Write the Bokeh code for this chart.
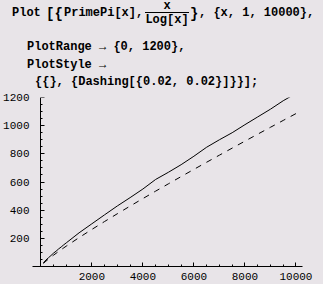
from bokeh.plotting import figure
from bokeh.models import Range1d, FixedTicker, LinearAxis, Div
from bokeh.layouts import column
from bokeh.embed import file_html
from bokeh.resources import INLINE
import html

# ---- data ----
x_vals = [100, 200, 300, 400, 500, 600, 700, 800, 900, 1000, 1500, 2000, 2500,
          3000, 3500, 4000, 4500, 5000, 5500, 6000, 6500, 7000, 7500, 8000,
          8500, 9000, 9500, 10000]
prime_pi = [25, 46, 62, 78, 95, 109, 125, 139, 154, 168, 239, 303, 367, 430,
            489, 550, 618, 669, 723, 783, 847, 900, 950, 1007, 1062, 1117,
            1177, 1229]
x_over_log = [21.7, 37.7, 52.6, 66.8, 80.5, 93.8, 106.8, 119.7, 132.3, 144.8,
              205.1, 263.1, 319.5, 374.7, 428.9, 482.3, 535.0, 587.0, 638.6,
              689.7, 740.4, 790.6, 840.6, 890.2, 939.5, 988.5, 1037.2, 1085.7]
x_major = [2000, 4000, 6000, 8000, 10000]
x_minor = [500, 1000, 1500, 2500, 3000, 3500, 4500, 5000, 5500, 6500, 7000,
           7500, 8500, 9000, 9500]
y_major = [200, 400, 600, 800, 1000, 1200]
y_minor = [50, 100, 150, 250, 300, 350, 450, 500, 550, 650, 700, 750, 850,
           900, 950, 1050, 1100, 1150]

code_plot = "Plot"
code_open = "[{"
code_primepi = "PrimePi[x],"
code_num = "x"
code_den = "Log[x]"
code_brace_close = "}"
code_range = ", {x, 1, 10000},"
code_line2 = "PlotRange \u2192 {0, 1200},"
code_line3 = "PlotStyle \u2192"
code_line4 = "{{}, {Dashing[{0.02, 0.02}]}}];"

BG = "#e8e4e8"

# ---- code (input cell) as positioned HTML text ----
def span(x, yc, s, size=12, center=False):
    tr = "transform:translateX(-50%);" if center else ""
    top = max(yc - size / 2, 0)
    return (f'<span style="position:absolute;left:{x}px;top:{top}px;'
            f'font-size:{size}px;line-height:{size}px;white-space:pre;{tr}">'
            f'{html.escape(s)}</span>')

parts = [
    span(12, 13, code_plot),
    span(46, 14, code_open, 14),
    span(64, 13, code_primepi),
    span(167, 6, code_num, center=True),
    '<div style="position:absolute;left:145px;top:12px;width:44px;height:0;'
    'border-top:1px solid black;"></div>',
    span(167, 20, code_den, center=True),
    span(190, 14, code_brace_close, 14),
    span(199, 13, code_range),
    span(27, 47, code_line2),
    span(27, 65, code_line3),
    span(35, 82, code_line4),
]
code_html = (f'<div style="position:relative;width:323px;height:92px;background:{BG};'
             f'font-family:\'Liberation Mono\',monospace;font-weight:bold;color:black;'
             f'margin:0;padding:0;overflow:hidden;">' + "".join(parts) + '</div>')
t = Div(text=code_html, width=323, height=92, margin=0,
        styles={"background-color": BG})

# ---- plot ----
p = figure(width=323, height=192, x_range=Range1d(-325, 10256), y_range=Range1d(0, 1200),
           output_backend="svg", toolbar_location=None,
           min_border_left=25, min_border_right=21, min_border_top=5, min_border_bottom=18)
p.grid.visible = False
p.outline_line_color = None
p.background_fill_color = BG
p.border_fill_color = BG

p.line(x_vals, prime_pi, line_color="black", line_width=1)
p.line(x_vals, x_over_log, line_color="black", line_width=1, line_dash="6 6")

# x axis
xa = p.xaxis[0]
xa.ticker = FixedTicker(ticks=x_major, minor_ticks=x_minor)
# left axis: labels only
la = p.yaxis[0]
la.ticker = FixedTicker(ticks=y_major)
la.axis_line_color = None
la.major_tick_line_color = None
la.minor_tick_line_color = None
la.major_label_standoff = -3
# y axis line + ticks at x = 0
ya = LinearAxis(ticker=FixedTicker(ticks=y_major, minor_ticks=y_minor), fixed_location=0,
                major_label_text_color=None)
p.add_layout(ya, "left")

for ax in (xa, ya):
    ax.axis_line_color = "black"
    ax.axis_line_width = 1
    ax.major_tick_line_color = "black"
    ax.minor_tick_line_color = "black"
    ax.major_tick_in = 4
    ax.major_tick_out = 0
    ax.minor_tick_in = 2
    ax.minor_tick_out = 0
for ax in (xa, la, ya):
    ax.major_label_text_font = "Liberation Mono"
    ax.major_label_text_font_size = "11px"
xa.major_label_text_color = "black"
la.major_label_text_color = "black"
xa.major_label_standoff = 6

layout = column(t, p, spacing=0, styles={"background-color": BG})
open("out.html", "w").write(file_html(layout, INLINE))
